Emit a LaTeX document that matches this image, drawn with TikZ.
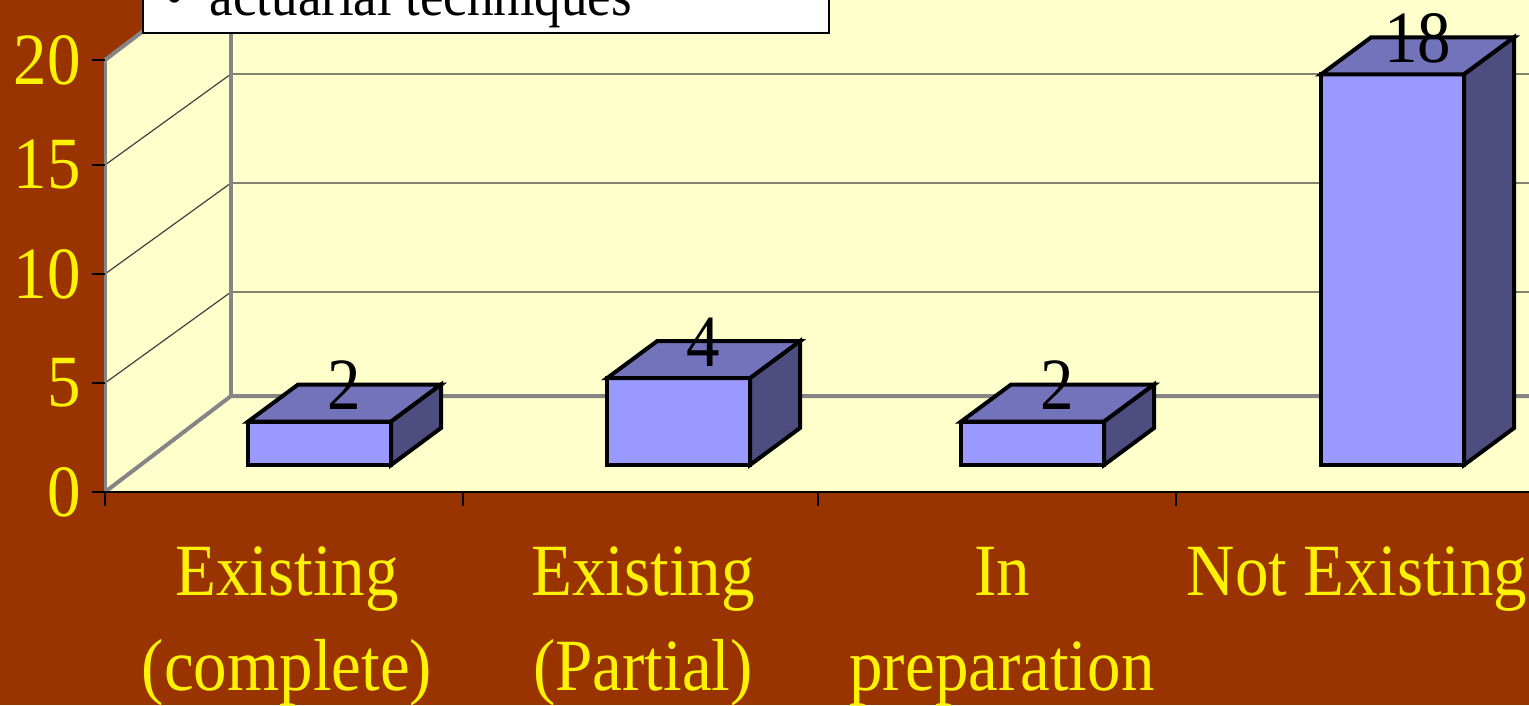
\documentclass[tikz,border=0pt]{standalone}
\usepackage{fontspec}
\setmainfont{Liberation Serif}
\definecolor{bgbrown}{HTML}{993300}
\definecolor{wallyellow}{HTML}{FFFFCC}
\definecolor{barfront}{HTML}{9999FF}
\definecolor{bartop}{HTML}{7373BC}
\definecolor{barside}{HTML}{4D4D80}
\definecolor{wallgray}{HTML}{858585}
\tikzset{
  axislabel/.style={text=yellow, font=\fontsize{67}{86}\selectfont, yscale=1.1, inner sep=0pt},
  barlabel/.style={font=\fontsize{67}{80}\selectfont, yscale=1.1, inner sep=0pt, anchor=base},
  baredge/.style={draw=black, line width=4pt, line join=miter},
  wall/.style={wallgray, line width=4pt},
}
\begin{document}
\begin{tikzpicture}[x=1pt, y=-1pt]
    \fill [bgbrown] (0,0) rectangle (1529,705);
    \useasboundingbox (0,0) rectangle (1529,705);

    \fill [wallyellow] (105,492) -- (105,60) -- (184,0) -- (1529,0) -- (1529,492) -- cycle;

    \foreach \f/\b in {165/74, 274/183, 383/292}
        \draw [black!75, line width=1.2pt] (105,\f) -- (231,\b) -- (1529,\b);

    \draw [wall] (105,492) -- (231,396) -- (1529,396);
    \draw [wall] (231,396) -- (231,0);
    \draw [wall] (105,60) -- (184,0);
    \draw [wall, line width=3pt] (105,492) -- (105,60);
    \draw [line width=1.5pt] (105,492) -- (1529,492);

    \foreach \y in {492,383,274,165,60}
        \draw [line width=1.5pt] (92,\y) -- (105,\y);
    \foreach \x in {105,463,818,1176}
        \draw [line width=1.5pt] (\x,492) -- (\x,506);

    \foreach \x/\v [count=\i] in {248/2, 607/4, 961/2, 1321/18} {
        \pgfmathsetmacro\t{465-21.7*\v}
        \filldraw [fill=barfront, baredge] (\x,465) rectangle (\x+143,\t);
        \filldraw [fill=bartop, baredge] (\x,\t) -- (\x+50,\t-37) -- (\x+193,\t-37) -- (\x+143,\t) -- cycle;
        \filldraw [fill=barside, baredge] (\x+143,465) -- (\x+193,428) -- (\x+193,\t-37) -- (\x+143,\t) -- cycle;
        \node [barlabel] (val\i) at (\x+96.5,\t-12) {\v};
    }

    \node [axislabel, anchor=east] (tick0) at (81,492) {0};
    \node [axislabel, anchor=east] (tick5) at (81,383) {5};
    \node [axislabel, anchor=east] (tick10) at (81,274) {10};
    \node [axislabel, anchor=east] (tick15) at (81,165) {15};
    \node [axislabel, anchor=east] (tick20) at (81,60) {20};

    \node [axislabel, align=center, anchor=base] (cat1) at (287,690) {Existing\\(complete)};
    \node [axislabel, align=center, anchor=base] (cat2) at (643,690) {Existing\\(Partial)};
    \node [axislabel, align=center, anchor=base] (cat3) at (1002,690) {In\\preparation};
    \node [axislabel, anchor=base] (cat4) at (1357,595) {Not Existing};

    \draw [fill=white, line width=2pt] (143,-20) rectangle (829,33);
    \node [font=\fontsize{53}{60}\selectfont, yscale=1.1, inner sep=0pt, anchor=base west] (legend) at (165,15) {•\hspace{26pt}actuarial techniques};
\end{tikzpicture}
\end{document}
